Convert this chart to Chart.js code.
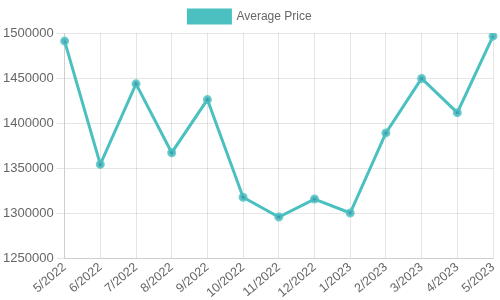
<!DOCTYPE html>
<html>
<head>
<meta charset="utf-8">
<script src="https://cdn.jsdelivr.net/npm/chart.js@4/dist/chart.umd.min.js"></script>
<style>
html,body{margin:0;padding:0;background:#fff;}
#wrap{width:500px;height:300px;}
</style>
</head>
<body>
<div id="wrap"><canvas id="grafico"></canvas></div>
<script>
const meses = ["5/2022","6/2022","7/2022","8/2022","9/2022","10/2022","11/2022","12/2022","1/2023","2/2023","3/2023","4/2023","5/2023"];
const precoMedio = [1491000,1354000,1443500,1367000,1426000,1317500,1295500,1315500,1300000,1389000,1449500,1411500,1496500];
const tickY = [1250000,1300000,1350000,1400000,1450000,1500000];

Chart.defaults.font.family = "'Liberation Sans', Arial, sans-serif";
Chart.defaults.font.size = 13;
Chart.defaults.color = "#666";

const ctx = document.getElementById("grafico");

new Chart(ctx, {
    type:"line",
    data:{
        labels:meses,
        datasets:[{
            label:"Average Price",
            data:precoMedio,
            borderColor:"rgb(75,192,192)",
            backgroundColor:"rgb(75,192,192)",
            pointBackgroundColor:"rgba(60,140,170,0.7)",
            pointBorderColor:"rgba(75,192,192,0.8)",
            pointRadius:3,
            borderWidth:3,
            tension:0
        }]
    },
    options:{
        responsive:true,
        maintainAspectRatio:false,
        animation:false,
        plugins:{
            legend:{
                position:"top",
                labels:{
                    boxWidth:42,
                    boxHeight:13,
                    font:{size:12}
                }
            }
        },
        scales:{
            y:{
                min:tickY[0],
                max:tickY[tickY.length-1],
                afterBuildTicks:function(axis){
                    axis.ticks = tickY.map(v=>({value:v}));
                },
                ticks:{
                    callback:function(v){ return String(v); }
                }
            },
            x:{
                grid:{drawTicks:false},
                ticks:{maxRotation:40,minRotation:40,padding:2,font:{size:12.5}},
                afterFit:function(axis){
                    axis.height = 42;
                    axis.paddingRight = 7;
                }
            }
        }
    }
});
</script>
</body>
</html>
